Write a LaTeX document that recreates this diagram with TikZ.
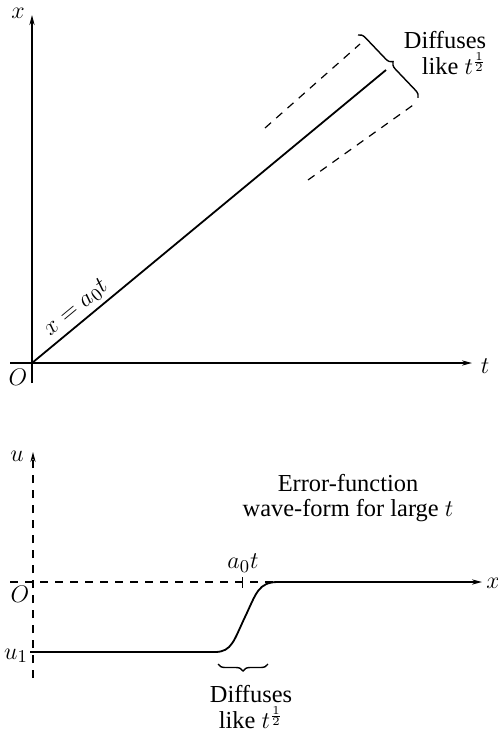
\documentclass[tikz,border=0pt]{standalone}
\usepackage{fontspec}
\setmainfont{Liberation Serif}
\usepackage{tikz}
\usetikzlibrary{arrows.meta,decorations.pathreplacing}

\newcommand{\halfpow}{^{\scriptscriptstyle\frac{1}{2}}}

\begin{document}
\begin{tikzpicture}[
  x=0.5pt,y=-0.5pt,font=\fontsize{12.2}{12.6}\selectfont,
  ax/.style={line width=0.9pt,-{Stealth[length=5pt,width=2.6pt]}},
  ln/.style={line width=0.9pt},
  da/.style={line width=0.6pt,dash pattern=on 4pt off 3.5pt},
  br/.style={decorate,decoration={brace,amplitude=3.5pt},line width=0.7pt},
  lb/.style={inner sep=1pt}
]
\useasboundingbox (0,0) rectangle (497,732);
% upper figure: the line x = a0 t
\coordinate (O1) at (32,363);
\coordinate (xlow) at (32,383); \coordinate (xtip) at (32,15);
\coordinate (tleft) at (10,363); \coordinate (ttip) at (472,363);
\coordinate (lend) at (386,70);
\draw[ax] (xlow) -- (xtip);
\draw[ax] (tleft) -- (ttip);
\node[lb] (xlab) at (18,13) {$x$};
\node[lb] (tlab) at (485,366) {$t$};
\node[lb] (olab1) at (18,377) {$O$};
\draw[ln] (O1) -- node[sloped,above,pos=0.15,inner sep=2pt] {$x=a_0t$} (lend);
\coordinate (up1) at (265,128); \coordinate (up2) at (360,44);
\coordinate (lo1) at (308,180); \coordinate (lo2) at (416,103);
\draw[da] (up1) -- (up2);
\draw[da] (lo1) -- (lo2);
\coordinate (bra) at (358,35); \coordinate (brb) at (418,98);
\draw[br] (bra) -- (brb);
\node[lb,align=right] (diff1) at (445,53) {Diffuses\\like $t\halfpow$};
% lower figure: wave-form
\coordinate (O2) at (33,582);
\coordinate (ulow) at (33,678); \coordinate (utip) at (33,452);
\coordinate (xleft) at (10,582); \coordinate (ctop) at (278,582);
\coordinate (xtip2) at (482,582);
\coordinate (u1left) at (30,652); \coordinate (cbot) at (215,652);
\coordinate (cmid) at (245,617);
\draw[da,-{Stealth[length=5pt,width=2.6pt]}] (ulow) -- (utip);
\draw[da] (xleft) -- (ctop);
\draw[ax] (ctop) -- (xtip2);
\draw[ln] (u1left) -- (cbot) .. controls (232,652) and (234,640) .. (cmid)
  .. controls (256,594) and (258,582) .. (ctop);
\coordinate (tk1) at (242,577); \coordinate (tk2) at (242,588);
\draw[line width=0.5pt] (tk1) -- (tk2);
\node[lb] (a0t) at (243,563) {$a_0t$};
\node[lb] (ulab) at (17,456) {$u$};
\node[lb] (olab2) at (20,594) {$O$};
\node[lb] (u1lab) at (16,656) {$u_1$};
\node[lb] (xlab2) at (493,583) {$x$};
\coordinate (brc) at (268,664); \coordinate (brd) at (218,664);
\draw[br] (brc) -- (brd);
\node[lb,align=center] (diff2) at (251,707) {Diffuses\\like $t\halfpow$};
\node[lb,align=center] (errf) at (348,498) {Error-function\\wave-form for large $t$};
\end{tikzpicture}
\end{document}
